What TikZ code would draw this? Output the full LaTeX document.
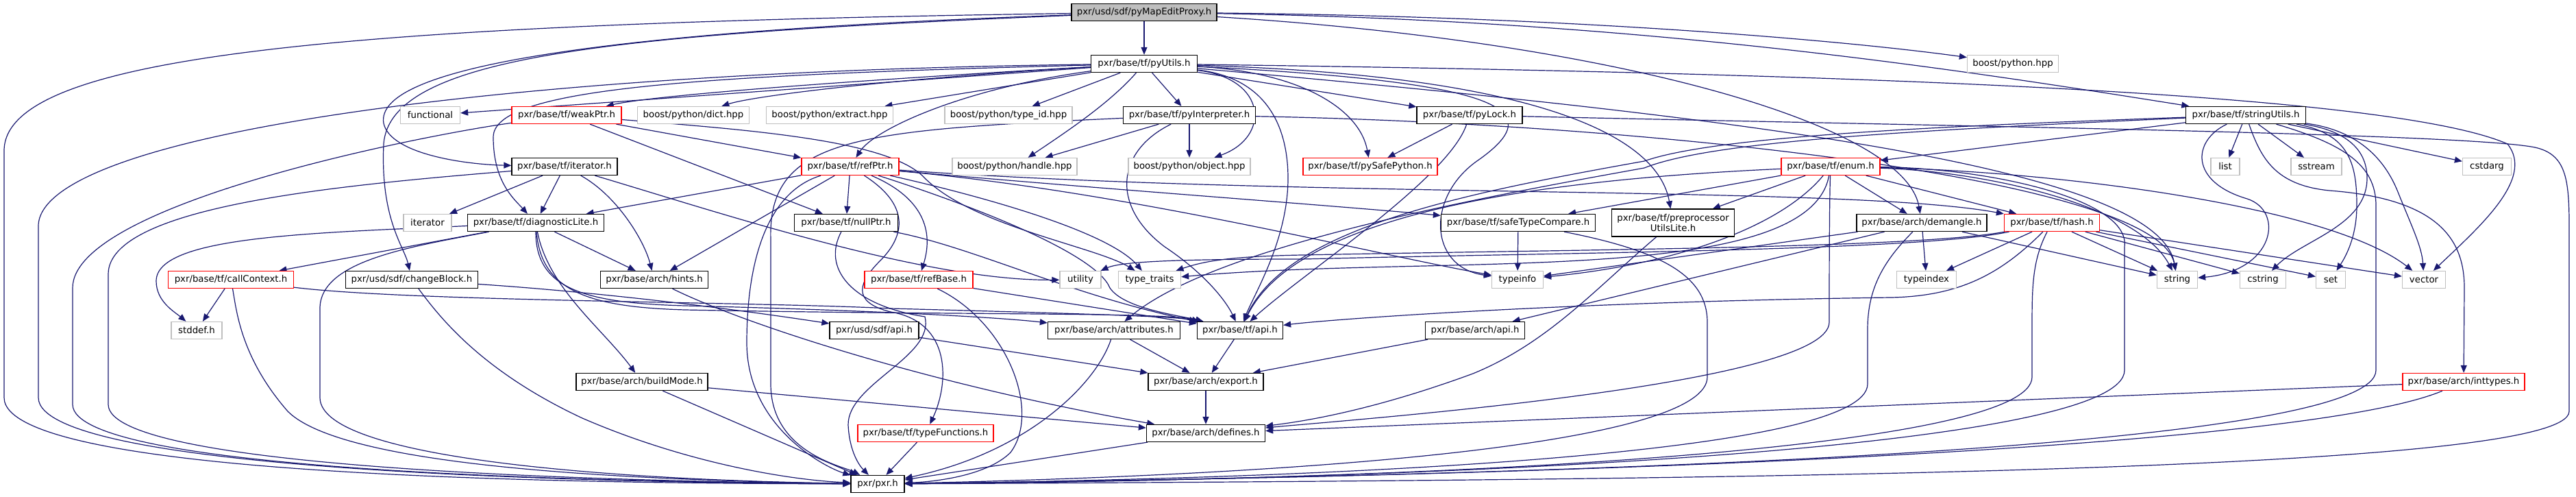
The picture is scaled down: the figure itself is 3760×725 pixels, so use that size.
\documentclass[tikz,border=0pt]{standalone}
\usepackage{fontspec}
\setmainfont{DejaVu Sans}
\usetikzlibrary{arrows.meta}
\definecolor{edgec}{HTML}{191970}
\definecolor{grayb}{HTML}{BFBFBF}
\pgfdeclarelayer{bg}
\pgfsetlayers{bg,main}
\begin{document}
\begin{tikzpicture}[x=1pt,y=-1pt,
  nbox/.style={draw=black, fill=white, line width=1.3pt, minimum height=25pt, inner sep=0pt, font=\fontsize{13.3}{15.5}\selectfont},
  sys/.style={nbox, draw=grayb},
  trunc/.style={nbox, draw=red},
  root/.style={nbox, fill=grayb},
  edg/.style={draw=edgec, line width=1.2pt, -{Triangle[length=11pt,width=9pt]}}]
\useasboundingbox (0,0) rectangle (3760,725);
\node[root, minimum width=212pt] (A) at (1670,18) {pxr/usd/sdf/pyMapEditProxy.h};
\node[nbox, minimum width=155pt] (B) at (1670,93) {pxr/base/tf/pyUtils.h};
\node[sys, minimum width=133pt] (C) at (2938,93) {boost/python.hpp};
\node[sys, minimum width=87pt] (D) at (628,168) {functional};
\node[trunc, minimum width=160pt] (E) at (827,168) {pxr/base/tf/weakPtr.h};
\node[sys, minimum width=163pt] (F) at (1012,168) {boost/python/dict.hpp};
\node[sys, minimum width=185pt] (G) at (1211,168) {boost/python/extract.hpp};
\node[sys, minimum width=186pt] (H) at (1472,168) {boost/python/type\_id.hpp};
\node[nbox, minimum width=193pt] (I) at (1736,168) {pxr/base/tf/pyInterpreter.h};
\node[nbox, minimum width=154pt] (J) at (2145,168) {pxr/base/tf/pyLock.h};
\node[nbox, minimum width=175pt] (K) at (3278,168) {pxr/base/tf/stringUtils.h};
\node[nbox, minimum width=154pt] (L) at (824,243) {pxr/base/tf/iterator.h};
\node[trunc, minimum width=142pt] (M) at (1241,243) {pxr/base/tf/refPtr.h};
\node[sys, minimum width=182pt] (N) at (1481,243) {boost/python/handle.hpp};
\node[sys, minimum width=178pt] (O) at (1736,243) {boost/python/object.hpp};
\node[trunc, minimum width=196pt] (P) at (2000,243) {pxr/base/tf/pySafePython.h};
\node[trunc, minimum width=144pt] (Q) at (2672,243) {pxr/base/tf/enum.h};
\node[sys, minimum width=42pt] (R) at (3248,243) {list};
\node[sys, minimum width=74pt] (S) at (3381,243) {sstream};
\node[sys, minimum width=71pt] (T) at (3630,243) {cstdarg};
\node[sys, minimum width=70pt] (U) at (624,325) {iterator};
\node[nbox, minimum width=199pt] (V) at (782,325) {pxr/base/tf/diagnosticLite.h};
\node[nbox, minimum width=151pt] (W) at (1235,325) {pxr/base/tf/nullPtr.h};
\node[nbox, minimum width=225pt] (X) at (2216,325) {pxr/base/tf/safeTypeCompare.h};
\node[nbox, minimum width=179pt, minimum height=40pt, align=center] (Y) at (2442,325) {pxr/base/tf/preprocessor\\UtilsLite.h};
\node[nbox, minimum width=190pt] (Z) at (2805,325) {pxr/base/arch/demangle.h};
\node[trunc, minimum width=139pt] (AA) at (2995,325) {pxr/base/tf/hash.h};
\node[trunc, minimum width=183pt] (BB) at (337,408) {pxr/base/tf/callContext.h};
\node[nbox, minimum width=193pt] (CC) at (601,408) {pxr/usd/sdf/changeBlock.h};
\node[nbox, minimum width=157pt] (DD) at (955,408) {pxr/base/arch/hints.h};
\node[trunc, minimum width=158pt] (EE) at (1341,408) {pxr/base/tf/refBase.h};
\node[sys, minimum width=60pt] (FF) at (1577,408) {utility};
\node[sys, minimum width=91pt] (GG) at (1678,408) {type\_traits};
\node[sys, minimum width=75pt] (HH) at (2215,408) {typeinfo};
\node[sys, minimum width=87pt] (II) at (2812,408) {typeindex};
\node[sys, minimum width=59pt] (JJ) at (3178,408) {string};
\node[sys, minimum width=67pt] (KK) at (3303,408) {cstring};
\node[sys, minimum width=43pt] (LL) at (3402,408) {set};
\node[sys, minimum width=63pt] (MM) at (3538,408) {vector};
\node[sys, minimum width=74pt] (NN) at (287,482) {stddef.h};
\node[nbox, minimum width=130pt] (OO) at (1276,482) {pxr/usd/sdf/api.h};
\node[nbox, minimum width=193pt] (PP) at (1626,482) {pxr/base/arch/attributes.h};
\node[nbox, minimum width=125pt] (QQ) at (1810,482) {pxr/base/tf/api.h};
\node[nbox, minimum width=145pt] (RR) at (2153,482) {pxr/base/arch/api.h};
\node[nbox, minimum width=192pt] (SS) at (937,557) {pxr/base/arch/buildMode.h};
\node[nbox, minimum width=168pt] (TT) at (1760,557) {pxr/base/arch/export.h};
\node[trunc, minimum width=178pt] (UU) at (3596,557) {pxr/base/arch/inttypes.h};
\node[trunc, minimum width=198pt] (VV) at (1351,632) {pxr/base/tf/typeFunctions.h};
\node[nbox, minimum width=173pt] (WW) at (1760,632) {pxr/base/arch/defines.h};
\node[nbox, minimum width=78pt] (XX) at (1281,706) {pxr/pxr.h};

\begin{pgfonlayer}{bg}
% pyMapEditProxy
\draw[edg] (A) -- (B);
\draw[edg] (A) .. controls (2300,24) and (2700,60) .. (C);
\draw[edg] (A) .. controls (2400,30) and (2850,100) .. (K);
\draw[edg] (A) .. controls (2350,60) and (2780,180) .. (Z);
\draw[edg] (A) .. controls (500,35) and (6,80) .. (6,220) -- (6,580) .. controls (6,700) and (900,705) .. (XX);
\draw[edg] (A) .. controls (900,45) and (545,95) .. (560,180) .. controls (570,225) and (680,240) .. (L);
\draw[edg] (A) .. controls (900,50) and (570,80) .. (560,210) .. controls (555,320) and (590,360) .. (CC);
% pyUtils
\draw[edg] (B) .. controls (1200,120) and (950,140) .. (E);
\draw[edg] (B) -- (D);
\draw[edg] (B) .. controls (1300,115) and (1100,140) .. (F);
\draw[edg] (B) -- (G);
\draw[edg] (B) -- (H);
\draw[edg] (B) -- (I);
\draw[edg] (B) .. controls (1620,150) and (1560,190) .. (N);
\draw[edg] (B) .. controls (1850,115) and (1855,200) .. (O);
\draw[edg] (B) .. controls (1400,130) and (1275,190) .. (M);
\draw[edg] (B) .. controls (1000,110) and (720,130) .. (720,200) .. controls (720,265) and (750,290) .. (V);
\draw[edg] (B) .. controls (700,105) and (56,200) .. (56,330) -- (56,580) .. controls (56,690) and (900,704) .. (XX);
\draw[edg] (B) -- (J);
\draw[edg] (B) .. controls (1900,105) and (1985,160) .. (P);
\draw[edg] (B) .. controls (1860,115) and (1880,200) .. (1880,260) .. controls (1880,350) and (1830,430) .. (QQ);
\draw[edg] (B) .. controls (2250,110) and (2420,200) .. (Y);
\draw[edg] (B) .. controls (2200,120) and (2260,160) .. (2160,232) .. controls (2080,285) and (2085,390) .. (HH);
\draw[edg] (B) .. controls (2800,108) and (3500,140) .. (3660,210) .. controls (3700,260) and (3620,330) .. (MM);
\draw[edg] (B) .. controls (2600,175) and (3150,250) .. (JJ);
% weakPtr
\draw[edg] (E) -- (M);
\draw[edg] (E) -- (W);
\draw[edg] (E) .. controls (600,200) and (106,300) .. (106,420) -- (106,590) .. controls (106,690) and (900,703) .. (XX);
\draw[edg] (E) .. controls (1100,190) and (1300,205) .. (1350,260) .. controls (1420,330) and (1600,360) .. (GG);
% pyInterpreter
\draw[edg] (I) -- (N);
\draw[edg] (I) -- (O);
\draw[edg] (I) .. controls (1250,190) and (1120,200) .. (1125,350) -- (1125,560) .. controls (1125,660) and (1230,680) .. (XX);
\draw[edg] (I) .. controls (1630,220) and (1620,300) .. (1700,360) .. controls (1760,400) and (1790,440) .. (QQ);
\draw[edg] (I) .. controls (2400,180) and (3150,260) .. (JJ);
% pyLock
\draw[edg] (J) -- (P);
\draw[edg] (J) .. controls (2115,260) and (1900,400) .. (QQ);
\draw[edg] (J) .. controls (2900,185) and (3600,195) .. (3700,215) .. controls (3745,225) and (3750,260) .. (3750,330) -- (3750,600) .. controls (3750,690) and (2500,700) .. (XX);
% stringUtils
\draw[edg] (K) -- (R);
\draw[edg] (K) -- (S);
\draw[edg] (K) -- (T);
\draw[edg] (K) .. controls (3200,205) and (3195,265) .. (3280,290) .. controls (3335,308) and (3320,395) .. (JJ);
\draw[edg] (K) .. controls (3420,190) and (3455,215) .. (3455,260) .. controls (3455,330) and (3360,350) .. (KK);
\draw[edg] (K) .. controls (3430,195) and (3440,240) .. (3440,300) .. controls (3440,350) and (3420,380) .. (LL);
\draw[edg] (K) .. controls (3440,190) and (3480,230) .. (3500,280) .. controls (3520,330) and (3535,360) .. (MM);
\draw[edg] (K) .. controls (3300,230) and (3320,270) .. (3400,278) .. controls (3560,290) and (3597,350) .. (3597,420) -- (UU);
\draw[edg] (K) .. controls (3420,210) and (3468,240) .. (3468,300) -- (3468,540) .. controls (3468,640) and (2600,690) .. (XX);
\draw[edg] (K) -- (Q);
\draw[edg] (K) .. controls (2800,185) and (2500,200) .. (2400,235) .. controls (2150,280) and (1880,330) .. (QQ);
\draw[edg] (K) .. controls (2800,190) and (2500,205) .. (2400,245) .. controls (2150,290) and (1770,360) .. (PP);
% iterator.h
\draw[edg] (L) -- (U);
\draw[edg] (L) -- (V);
\draw[edg] (L) .. controls (900,285) and (940,350) .. (DD);
\draw[edg] (L) .. controls (1050,310) and (1350,410) .. (FF);
\draw[edg] (L) .. controls (500,270) and (158,300) .. (158,400) -- (158,590) .. controls (158,685) and (900,702) .. (XX);
% refPtr
\draw[edg] (M) -- (V);
\draw[edg] (M) -- (DD);
\draw[edg] (M) -- (W);
\draw[edg] (M) .. controls (1340,285) and (1365,330) .. (EE);
\draw[edg] (M) .. controls (1450,290) and (1620,340) .. (GG);
\draw[edg] (M) .. controls (1420,300) and (1600,370) .. (1620,420) .. controls (1640,450) and (1720,460) .. (QQ);
\draw[edg] (M) .. controls (1330,300) and (1320,345) .. (1285,380) .. controls (1255,410) and (1240,440) .. (1300,455) .. controls (1390,470) and (1385,560) .. (VV);
\draw[edg] (M) .. controls (1120,280) and (1090,380) .. (1090,500) .. controls (1090,620) and (1200,680) .. (XX);
\draw[edg] (M) .. controls (1600,275) and (1950,300) .. (X);
\draw[edg] (M) .. controls (1900,290) and (2700,270) .. (AA);
\draw[edg] (M) .. controls (1650,280) and (2000,370) .. (HH);
% diagnosticLite
\draw[edg] (V) -- (BB);
\draw[edg] (V) .. controls (450,340) and (228,345) .. (228,410) .. controls (228,440) and (255,455) .. (NN);
\draw[edg] (V) -- (DD);
\draw[edg] (V) .. controls (800,420) and (880,480) .. (SS);
\draw[edg] (V) .. controls (782,420) and (850,442) .. (1000,446) .. controls (1250,452) and (1450,462) .. (PP);
\draw[edg] (V) .. controls (790,425) and (860,448) .. (1000,452) .. controls (1400,460) and (1700,455) .. (QQ);
\draw[edg] (V) .. controls (600,360) and (467,380) .. (467,450) -- (467,580) .. controls (467,670) and (900,700) .. (XX);
% nullPtr
\draw[edg] (W) .. controls (1200,390) and (1240,445) .. (1350,462) .. controls (1365,520) and (1237,560) .. (1238,620) .. controls (1240,660) and (1255,680) .. (XX);
\draw[edg] (W) .. controls (1420,360) and (1560,430) .. (QQ);
% safeTypeCompare
\draw[edg] (X) -- (HH);
\draw[edg] (X) .. controls (2420,365) and (2492,400) .. (2492,470) -- (2492,550) .. controls (2492,640) and (2000,690) .. (XX);
% preprocessorUtilsLite
\draw[edg] (Y) .. controls (2330,420) and (2260,500) .. (2150,545) .. controls (2000,600) and (1900,615) .. (WW);
% demangle
\draw[edg] (Z) -- (II);
\draw[edg] (Z) -- (JJ);
\draw[edg] (Z) -- (HH);
\draw[edg] (Z) -- (RR);
\draw[edg] (Z) .. controls (2750,380) and (2726,420) .. (2726,480) -- (2726,560) .. controls (2726,660) and (2000,697) .. (XX);
% enum
\draw[edg] (Q) -- (X);
\draw[edg] (Q) -- (Y);
\draw[edg] (Q) -- (Z);
\draw[edg] (Q) -- (AA);
\draw[edg] (Q) .. controls (2600,330) and (2450,385) .. (HH);
\draw[edg] (Q) .. controls (2300,260) and (1900,300) .. (QQ);
\draw[edg] (Q) .. controls (2640,420) and (2100,370) .. (GG);
\draw[edg] (Q) .. controls (2670,300) and (2670,420) .. (2670,470) .. controls (2670,560) and (2000,610) .. (WW);
\draw[edg] (Q) .. controls (2900,245) and (3110,290) .. (3101,360) -- (3101,540) .. controls (3101,650) and (2200,698) .. (XX);
\draw[edg] (Q) .. controls (2900,250) and (3120,300) .. (JJ);
\draw[edg] (Q) .. controls (3000,250) and (3400,300) .. (MM);
% hash
\draw[edg] (AA) -- (II);
\draw[edg] (AA) -- (JJ);
\draw[edg] (AA) -- (KK);
\draw[edg] (AA) -- (LL);
\draw[edg] (AA) -- (MM);
\draw[edg] (AA) .. controls (2966,380) and (2966,420) .. (2966,480) -- (2966,550) .. controls (2966,650) and (2200,699) .. (XX);
\draw[edg] (AA) .. controls (2920,400) and (2860,432) .. (2760,434) .. controls (2300,440) and (1950,465) .. (QQ);
\draw[edg] (AA) .. controls (2800,362) and (2300,364) .. (1900,372) .. controls (1800,374) and (1760,380) .. (GG);
\draw[edg] (AA) .. controls (2800,366) and (2300,368) .. (1900,378) .. controls (1750,378) and (1640,380) .. (FF);
% callContext
\draw[edg] (BB) -- (NN);
\draw[edg] (BB) .. controls (345,450) and (350,520) .. (420,600) .. controls (500,680) and (900,700) .. (XX);
\draw[edg] (BB) .. controls (600,440) and (1100,440) .. (1300,450) .. controls (1600,458) and (1720,462) .. (QQ);
% changeBlock
\draw[edg] (CC) .. controls (900,428) and (1100,455) .. (OO);
\draw[edg] (CC) .. controls (640,460) and (700,540) .. (850,610) .. controls (1000,675) and (1150,700) .. (XX);
% hints, refBase
\draw[edg] (DD) .. controls (1080,470) and (1350,560) .. (WW);
\draw[edg] (EE) -- (QQ);
\draw[edg] (EE) .. controls (1470,470) and (1520,600) .. (1475,660) .. controls (1440,695) and (1360,703) .. (XX);
% lower rows
\draw[edg] (OO) -- (TT);
\draw[edg] (PP) -- (TT);
\draw[edg] (QQ) -- (TT);
\draw[edg] (RR) -- (TT);
\draw[edg] (PP) .. controls (1600,560) and (1500,660) .. (XX);
\draw[edg] (SS) -- (WW);
\draw[edg] (SS) -- (XX);
\draw[edg] (TT) -- (WW);
\draw[edg] (UU) -- (WW);
\draw[edg] (UU) .. controls (3400,640) and (2600,690) .. (XX);
\draw[edg] (VV) -- (XX);
\draw[edg] (WW) -- (XX);
\end{pgfonlayer}
\end{tikzpicture}
\end{document}
